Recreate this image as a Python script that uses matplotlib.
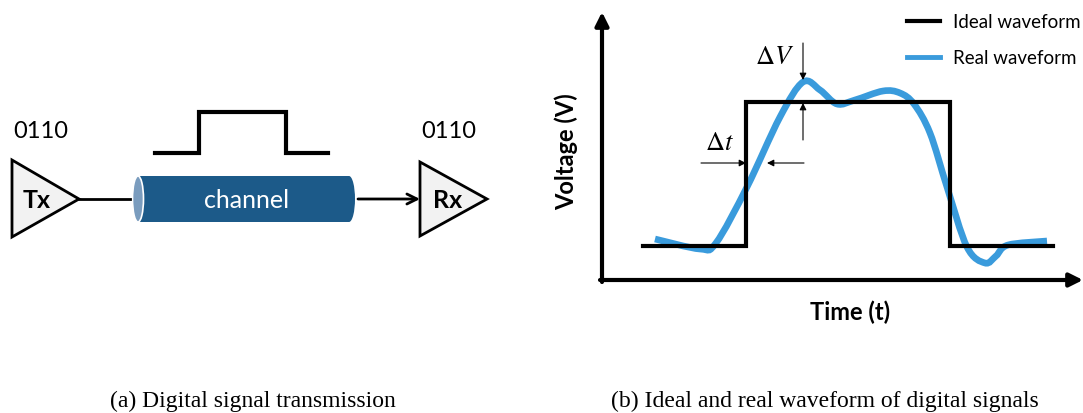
import matplotlib.pyplot as plt
import numpy as np
from matplotlib.patches import Polygon, Rectangle, Ellipse
from matplotlib.path import Path
from matplotlib.patches import PathPatch

# ---- data (pixel coordinates of the original drawing) ----
bits_label = '0110'

# square pulse above the channel
pulse_x = [155, 199, 199, 286, 286, 328]
pulse_y = [153, 153, 112, 112, 153, 153]

# ideal waveform
ideal_x = [643, 746, 746, 950, 950, 1053]
ideal_y = [246, 246, 102, 102, 246, 246]

# real waveform
real_x = [655, 700, 716, 747, 780, 803, 820, 837, 855, 883, 900, 914, 930, 947, 967, 985, 996, 1008, 1047]
real_y = [239, 249, 243, 187, 117, 82, 90, 104, 100, 91, 93, 104, 133, 187, 247, 263, 256, 245, 241]

legend_labels = ['Ideal waveform', 'Real waveform']
caption_a = '(a) Digital signal transmission'
caption_b = '(b) Ideal and real waveform of digital signals'

BLUE = '#3a9bdc'
CH_BLUE = '#1c5a89'
CH_END = '#7a9cbe'
GREY = '#f2f2f2'

plt.rcParams['font.family'] = ['Lato', 'DejaVu Sans']
plt.rcParams['mathtext.fontset'] = 'stix'

fig = plt.figure(figsize=(10.83, 4.13), dpi=100)
ax = fig.add_axes([0, 0, 1, 1])
ax.set_xlim(0, 1083)
ax.set_ylim(413, 0)
ax.axis('off')


def smooth_path(xs, ys):
    # Catmull-Rom through the points, drawn as cubic bezier segments
    pts = np.column_stack([xs, ys]).astype(float)
    verts = [pts[0]]
    codes = [Path.MOVETO]
    for i in range(len(pts) - 1):
        p0 = pts[i - 1] if i > 0 else pts[i]
        p1 = pts[i]
        p2 = pts[i + 1]
        p3 = pts[i + 2] if i + 2 < len(pts) else pts[i + 1]
        c1 = p1 + (p2 - p0) / 6.0
        c2 = p2 - (p3 - p1) / 6.0
        verts += [c1, c2, p2]
        codes += [Path.CURVE4] * 3
    return Path(verts, codes)


def dim_arrow(tip, tail):
    ax.annotate('', xy=tip, xytext=tail,
                arrowprops=dict(arrowstyle='-|>', lw=0.8, color='black', mutation_scale=10,
                                shrinkA=0, shrinkB=0))


# ---------------- (a) ----------------
ax.text(13, 131, bits_label, fontsize=17, va='center', ha='left')
ax.text(421, 131, bits_label, fontsize=17, va='center', ha='left')

ax.plot(pulse_x, pulse_y, color='black', lw=3, solid_joinstyle='miter')

tx = Polygon([[12, 160], [12, 237], [79, 199]], closed=True, fc=GREY, ec='black', lw=2)
rx = Polygon([[420, 162], [420, 236], [487, 199]], closed=True, fc=GREY, ec='black', lw=2)
ax.add_patch(tx)
ax.add_patch(rx)
ax.text(37, 201, 'Tx', fontsize=18, fontweight='bold', ha='center', va='center')
ax.text(448, 201, 'Rx', fontsize=18, fontweight='bold', ha='center', va='center')

ax.plot([79, 130], [199, 199], color='black', lw=2)
ax.annotate('', xy=(420, 199), xytext=(358, 199),
            arrowprops=dict(arrowstyle='->', lw=2, color='black', mutation_scale=18,
                            shrinkA=0, shrinkB=0))

# channel cylinder
ax.add_patch(Ellipse((349, 199), 12, 46, fc=CH_BLUE, ec='none'))
ax.add_patch(Rectangle((138, 176), 211, 46, fc=CH_BLUE, ec='none'))
ax.add_patch(Ellipse((138, 199), 11, 46, fc=CH_END, ec='white', lw=1.2))
ax.text(247, 201, 'channel', fontsize=18, color='white', ha='center', va='center')

# ---------------- (b) ----------------
ax.annotate('', xy=(602, 12), xytext=(602, 282),
            arrowprops=dict(arrowstyle='-|>', lw=3, color='black', mutation_scale=20,
                            shrinkA=0, shrinkB=0))
ax.annotate('', xy=(1083, 280), xytext=(600, 280),
            arrowprops=dict(arrowstyle='-|>', lw=3, color='black', mutation_scale=20,
                            shrinkA=0, shrinkB=0))

ax.plot(ideal_x, ideal_y, color='black', lw=3, solid_joinstyle='miter')
ax.add_patch(PathPatch(smooth_path(real_x, real_y), fc='none', ec=BLUE, lw=4.8,
                       capstyle='butt'))

# delta V
dim_arrow((803, 80), (803, 43))
dim_arrow((803, 103), (803, 140))
ax.text(775, 57, r'$\Delta V$', fontsize=19, ha='center', va='center')

# delta t
dim_arrow((746, 163), (701, 163))
dim_arrow((767, 163), (804, 163))
ax.text(719, 143, r'$\Delta t$', fontsize=19, ha='center', va='center')

# legend
ax.plot([907, 940], [21, 21], color='black', lw=3)
ax.plot([907, 940], [57, 57], color=BLUE, lw=3.5)
ax.text(953, 22, legend_labels[0], fontsize=13.5, ha='left', va='center')
ax.text(953, 58, legend_labels[1], fontsize=13.5, ha='left', va='center')

ax.text(850, 312, 'Time (t)', fontsize=17, fontweight='bold', ha='center', va='center')
ax.text(566, 152, 'Voltage (V)', fontsize=17, fontweight='bold', ha='center', va='center',
        rotation=90)

# captions
ax.text(253, 407, caption_a, fontsize=17, family='Liberation Serif', ha='center', va='baseline')
ax.text(825, 407, caption_b, fontsize=17, family='Liberation Serif', ha='center', va='baseline')

fig.savefig('out.png', dpi=100)
